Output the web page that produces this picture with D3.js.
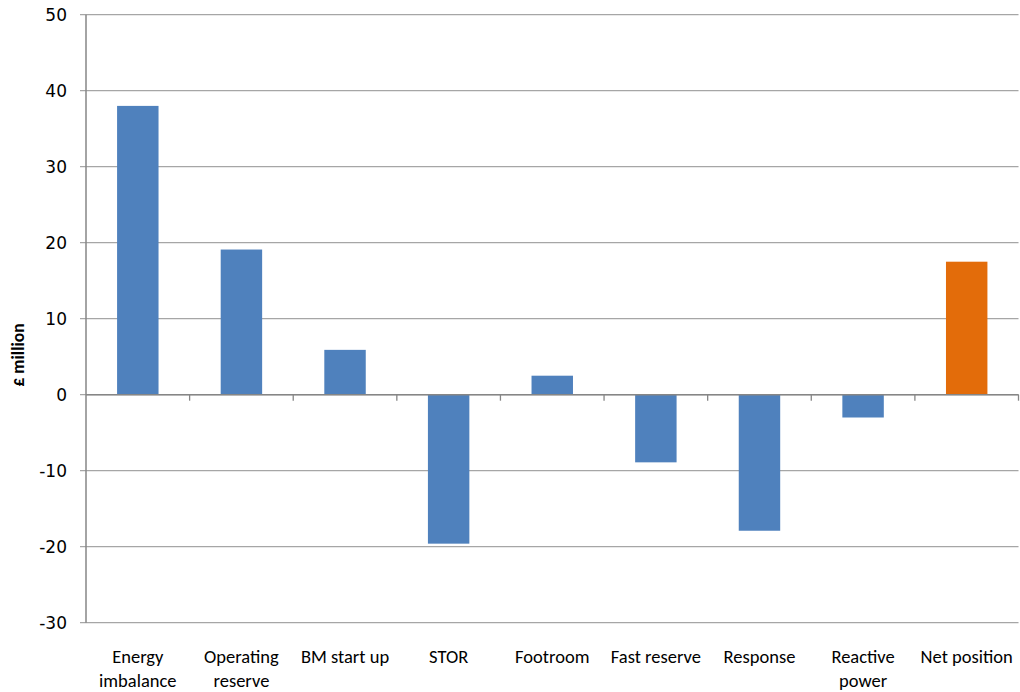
<!DOCTYPE html>
<html><head><meta charset="utf-8">
<script src="https://cdn.jsdelivr.net/npm/d3@7"></script>
<style>body{margin:0;background:#fff}</style>
</head><body>
<svg id="chart" width="1020" height="692"></svg>
<script>
const categories = ["Energy imbalance","Operating reserve","BM start up","STOR","Footroom","Fast reserve","Response","Reactive power","Net position"];
const values = [38.0, 19.1, 5.9, -19.6, 2.5, -8.9, -17.9, -3.0, 17.5];
const barColors = ["#4f81bd","#4f81bd","#4f81bd","#4f81bd","#4f81bd","#4f81bd","#4f81bd","#4f81bd","#e36c0a"];
const yTicks = [-30,-20,-10,0,10,20,30,40,50];
const yTitle = "£ million";

(function(){
const svg = d3.select("#chart");
const pl = 86, pr = 1018.5, pt = 14.7, pb = 622.7;
const x = d3.scaleBand().domain(categories).range([pl, pr]).paddingInner(0.6).paddingOuter(0.3);
const y = d3.scaleLinear().domain([-30, 50]).range([pb, pt]);

// gridlines
svg.append("g").selectAll("line").data(yTicks).join("line")
  .attr("x1", pl - 6).attr("x2", pr)
  .attr("y1", d => y(d)).attr("y2", d => y(d))
  .attr("stroke", "#a6a6a6").attr("stroke-width", 1.3);

// bars
svg.append("g").selectAll("rect").data(values).join("rect")
  .attr("x", (d,i) => x(categories[i]))
  .attr("width", x.bandwidth())
  .attr("y", d => y(Math.max(0,d)))
  .attr("height", d => Math.abs(y(d) - y(0)))
  .attr("fill", (d,i) => barColors[i]);

// y axis line
svg.append("line").attr("x1", pl).attr("x2", pl).attr("y1", pt).attr("y2", pb)
  .attr("stroke", "#868686").attr("stroke-width", 1.5);
// zero axis
svg.append("line").attr("x1", pl).attr("x2", pr).attr("y1", y(0)).attr("y2", y(0))
  .attr("stroke", "#868686").attr("stroke-width", 1.5);
// category ticks
const tickXs = d3.range(categories.length + 1).map(i => pl + i * x.step());
svg.append("g").selectAll("line").data(tickXs.slice(1)).join("line")
  .attr("x1", d => d).attr("x2", d => d).attr("y1", y(0)).attr("y2", y(0) + 6)
  .attr("stroke", "#868686").attr("stroke-width", 1.3);

// y tick labels
svg.append("g").selectAll("text").data(yTicks).join("text")
  .attr("x", 67).attr("y", d => y(d)).attr("dy", "0.36em")
  .attr("text-anchor", "end")
  .attr("font-family", "DejaVu Sans").attr("font-size", 17).attr("fill", "#000")
  .text(d => d);

// category labels
const catG = svg.append("g");
categories.forEach((c, i) => {
  const cx = x(c) + x.bandwidth()/2;
  const t = catG.append("text").attr("text-anchor", "middle")
    .attr("font-family", "Carlito, Lato, sans-serif").attr("font-size", 18.5).attr("fill", "#000");
  const words = c.split(" ");
  let lines = [], line = [];
  const probe = t.append("tspan");
  words.forEach(w => {
    const test = line.concat([w]).join(" ");
    probe.text(test);
    if (probe.node().getComputedTextLength() > 101 && line.length) { lines.push(line.join(" ")); line = [w]; }
    else line.push(w);
  });
  lines.push(line.join(" "));
  probe.remove();
  lines.forEach((l, j) => {
    t.append("tspan").attr("x", cx).attr("y", 663 + j * 24).text(l);
  });
});

// y title
svg.append("text").attr("transform", "translate(24,355) rotate(-90)")
  .attr("text-anchor", "middle").attr("font-family", "Carlito, Lato, sans-serif")
  .attr("font-weight", "bold").attr("font-size", 17.5).text(yTitle);
})();
</script>
</body></html>
